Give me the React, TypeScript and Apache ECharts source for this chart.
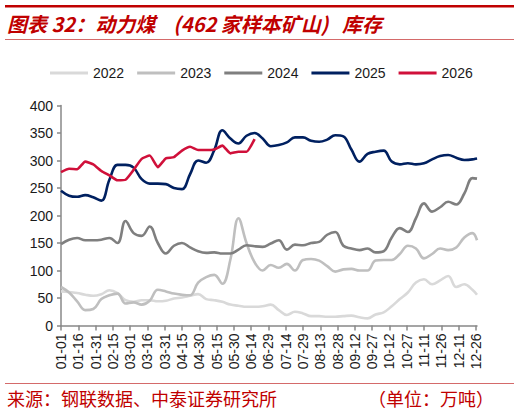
import React, { useEffect, useRef } from "react";
import * as echarts from "echarts";

const monthLengths = [31, 29, 31, 30, 31, 30, 31, 31, 30, 31, 30, 31];
const lastCategory = "12-27";
const yTicks = { min: 0, max: 400, interval: 50 };

const weekDates = [
  "01-01", "01-08", "01-15", "01-22", "01-29", "02-05", "02-12", "02-19", "02-26",
  "03-04", "03-11", "03-18", "03-25", "04-01", "04-08", "04-15", "04-22", "04-29",
  "05-06", "05-13", "05-20", "05-27", "06-03", "06-10", "06-17", "06-24", "07-01",
  "07-08", "07-15", "07-22", "07-29", "08-05", "08-12", "08-19", "08-26", "09-02",
  "09-09", "09-16", "09-23", "09-30", "10-07", "10-14", "10-21", "10-28", "11-04",
  "11-11", "11-18", "11-25", "12-02", "12-09", "12-16", "12-23", "12-27",
];

const years = ["2022", "2023", "2024", "2025", "2026"];

const v2022 = [62, 61, 59, 56, 54, 57, 64, 59, 46, 43, 46, 46, 44, 45, 49, 51, 54, 57, 48, 46, 43, 38, 36, 34, 34, 35, 38, 28, 19, 25, 22, 17, 17, 16, 16, 17, 18, 15, 13, 20, 24, 35, 48, 60, 78, 84, 75, 82, 90, 70, 75, 65, 56];
const v2023 = [70, 60, 44, 28, 30, 48, 55, 58, 40, 42, 38, 45, 65, 62, 58, 56, 55, 78, 88, 92, 76, 120, 195, 150, 115, 100, 110, 105, 112, 100, 119, 121, 118, 108, 98, 102, 103, 100, 100, 118, 119, 119, 130, 145, 140, 122, 130, 140, 137, 142, 160, 168, 155];
const v2024 = [148, 156, 159, 155, 155, 156, 159, 150, 190, 168, 163, 180, 150, 131, 145, 150, 142, 135, 132, 133, 131, 131, 138, 146, 144, 143, 149, 155, 138, 147, 146, 150, 152, 165, 170, 145, 140, 137, 140, 133, 135, 160, 177, 170, 195, 222, 207, 215, 225, 220, 240, 268, 267];
const v2025 = [245, 236, 234, 237, 233, 227, 265, 292, 292, 287, 266, 258, 258, 257, 250, 248, 275, 300, 296, 319, 355, 340, 331, 345, 350, 340, 326, 328, 333, 342, 342, 336, 334, 338, 346, 344, 320, 298, 312, 316, 318, 298, 293, 295, 293, 295, 302, 308, 310, 305, 301, 302, 304];
const v2026 = [279, 285, 284, 298, 293, 281, 273, 264, 265, 283, 303, 309, 288, 304, 306, 318, 325, 319, 319, 320, 327, 313, 316, 316, 339];

const colors = ["#d9d9d9", "#bfbfbf", "#7f7f7f", "#002060", "#d0103a"];

function buildCategories(): string[] {
  const out: string[] = [];
  for (let m = 0; m < 12; m++) {
    for (let d = 1; d <= monthLengths[m]; d++) {
      const s = String(m + 1).padStart(2, "0") + "-" + String(d).padStart(2, "0");
      out.push(s);
      if (s === lastCategory) return out;
    }
  }
  return out;
}

export default function App() {
  const ref = useRef<HTMLDivElement>(null);
  useEffect(() => {
    if (!ref.current) return;
    const chart = echarts.init(ref.current, undefined, { renderer: "svg" });
    const categories = buildCategories();
    const values = [v2022, v2023, v2024, v2025, v2026];
    const font = "'Liberation Sans', Arial, sans-serif";
    const cjk = "'Noto Sans CJK SC', sans-serif";
    chart.setOption({
      animation: false,
      color: colors,
      grid: { left: 61, right: 42, top: 105.5, bottom: 87.5, containLabel: false },
      legend: {
        left: 45,
        top: 61,
        icon: "rect",
        itemWidth: 38,
        itemHeight: 3,
        itemGap: 13,
        textStyle: { fontSize: 14, color: "#1a1a1a", fontFamily: font },
        data: years,
      },
      xAxis: {
        type: "category",
        data: categories,
        boundaryGap: false,
        axisLine: { lineStyle: { color: "#888888", width: 1.5 } },
        axisTick: { interval: 14, length: 5, lineStyle: { color: "#888888", width: 1.5 } },
        axisLabel: {
          interval: 14,
          rotate: 90,
          fontSize: 14,
          color: "#1a1a1a",
          fontFamily: font,
          margin: 8,
        },
        splitLine: { show: false },
      },
      yAxis: {
        type: "value",
        min: yTicks.min,
        max: yTicks.max,
        interval: yTicks.interval,
        axisLine: { show: true, lineStyle: { color: "#888888", width: 1.5 } },
        axisTick: { show: true, length: 4, lineStyle: { color: "#888888", width: 1.5 } },
        axisLabel: { fontSize: 14, color: "#1a1a1a", fontFamily: font, margin: 8 },
        splitLine: { show: false },
      },
      series: years.map((y, i) => ({
        name: y,
        type: "line",
        symbol: "none",
        smooth: i === 4 ? 0.15 : 0.4,
        lineStyle: { width: 2.6, color: colors[i] },
        data: values[i].map((v, k) => [weekDates[k], v]),
      })),
      graphic: [
        { type: "rect", shape: { x: 5, y: 5, width: 509, height: 2.5 }, style: { fill: "#c00000" } },
        {
          type: "text",
          x: 7,
          y: 23,
          style: {
            text: "图表 32：动力煤\u00a0\u00a0\u00a0\u00a0(462 家样本矿山)\u00a0\u00a0\u00a0库存",
            fill: "#c00000",
            font: "italic bold 20px " + cjk,
            textVerticalAlign: "middle",
          },
        },
        { type: "rect", shape: { x: 5, y: 39, width: 509, height: 1 }, style: { fill: "#d46a6a" } },
        { type: "rect", shape: { x: 5, y: 383, width: 509, height: 1 }, style: { fill: "#d46a6a" } },
        {
          type: "text",
          x: 7,
          y: 398,
          style: {
            text: "来源：钢联数据、中泰证券研究所",
            fill: "#c00000",
            font: "18px " + cjk,
            textVerticalAlign: "middle",
          },
        },
        {
          type: "text",
          x: 494,
          y: 398,
          style: {
            text: "（单位：万吨）",
            fill: "#c00000",
            font: "18px " + cjk,
            textAlign: "right",
            textVerticalAlign: "middle",
          },
        },
      ],
    });
    return () => chart.dispose();
  }, []);
  return <div ref={ref} style={{ width: 519, height: 413, position: "absolute", left: 0, top: 0 }} />;
}
